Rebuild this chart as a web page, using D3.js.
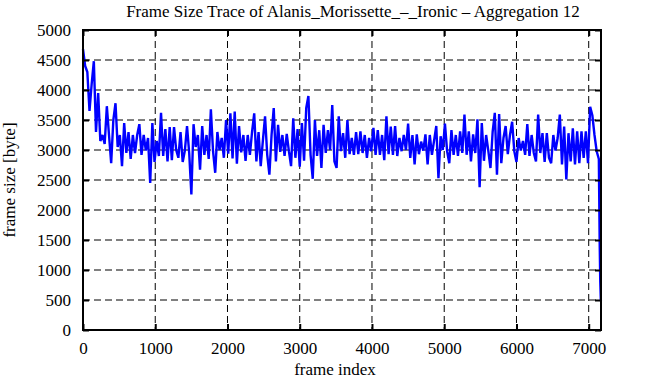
<!DOCTYPE html>
<html>
<head>
<meta charset="utf-8">
<script src="https://cdn.jsdelivr.net/npm/d3@7"></script>
<style>
  html, body { margin: 0; padding: 0; background: #fff; }
  svg { display: block; }
  text { font-family: "Liberation Serif", "Times New Roman", serif; fill: #000; }
</style>
</head>
<body>
<svg id="chart" width="665" height="380"></svg>
<script>
// ---- data ----
const titleText = "Frame Size Trace of Alanis_Morissette_\u2013_Ironic \u2013 Aggregation 12";
const xLabel = "frame index";
const yLabel = "frame size [byte]";
const xTicks = [0, 1000, 2000, 3000, 4000, 5000, 6000, 7000];
const yTicks = [0, 500, 1000, 1500, 2000, 2500, 3000, 3500, 4000, 4500, 5000];
const xMax = 7170;
const yMax = 5000;
const frameStep = 30; // frames between consecutive samples of frameSizes
const frameSizes = [
  4680, 4400, 4300, 3650, 4100, 4480, 3300, 3950, 3150, 3250, 3100, 3730, 3250, 2780, 3500, 3780,
  3050, 3250, 2730, 3450, 2950, 3300, 2850, 3250, 2950, 3250, 3430, 2920, 3250, 2990, 3200, 2450,
  3450, 2800, 3150, 2900, 3620, 2900, 3350, 2810, 3380, 2830, 3380, 3000, 2870, 3300, 2800,
  2990, 3400, 2950, 2260, 3430, 3050, 3250, 2670, 3400, 2920, 3250, 2850, 3680, 2980, 2620, 3300,
  3000, 3200, 2870, 3500, 2940, 3610, 2860, 3640, 2770, 3400, 2960, 3250, 2820, 3250, 2920, 3300,
  3610, 2810, 3300, 2730, 3160, 3560, 2920, 2590, 3250, 3700, 2810, 3420, 2970, 3250, 2900, 3270, 2980,
  2730, 3530, 2870, 3350, 2720, 3450, 2820, 3700, 3900, 2920, 2520, 3500, 2900, 3330, 2700, 3420,
  2950, 3330, 3000, 3750, 2810, 2700, 3560, 2980, 3280, 2870, 3500, 2930, 3200, 2920, 3300, 2930,
  3310, 2950, 3250, 2870, 3200, 2980, 3370, 2920, 3330, 2920, 3250, 2830, 3560, 2930, 3390, 2920,
  3400, 2900, 3200, 2980, 3250, 3000, 3440, 2870, 3250, 2760, 3260, 2930, 3140, 2990, 3260, 2760,
  3250, 2920, 3160, 3400, 2530, 3230, 3000, 3440, 2980, 2780, 3330, 2920, 3250, 2900, 3310, 2950,
  3590, 2920, 3310, 2810, 3260, 2950, 3510, 2380, 3450, 2820, 3250, 2990, 2700, 3300, 3620, 2590,
  3600, 2780, 3200, 3400, 2930, 3250, 3470, 2980, 2800, 3200, 2990, 3150, 2920, 3430, 2900, 3250,
  2950, 2810, 3590, 2950, 3280, 2800, 3280, 2870, 2780, 3250, 2990, 3200, 3590, 2760, 3390, 2510,
  3280, 2810, 3360, 2760, 3310, 2780, 3310, 2870, 3310, 2780, 3720, 3580, 3250, 2980, 2850
];
const tailFrames = [7152, 7160, 7168];
const tailSizes = [1450, 800, 480];

// ---- build points ----
const points = frameSizes.map((v, i) => ({ f: i * frameStep, v }))
  .concat(tailFrames.map((f, i) => ({ f, v: tailSizes[i] })));

// ---- layout ----
const svg = d3.select("#chart");
const L = 83, R = 601, T = 30, B = 330;
const x = d3.scaleLinear().domain([0, xMax]).range([L, R]);
const y = d3.scaleLinear().domain([0, yMax]).range([B, T]);

// grid
const g = svg.append("g");
g.selectAll("line.hg").data(yTicks.filter(t => t > 0 && t < yMax)).join("line")
  .attr("x1", L).attr("x2", R).attr("y1", d => y(d)).attr("y2", d => y(d))
  .attr("stroke", "#000").attr("stroke-width", 1).attr("stroke-dasharray", "7,4");
g.selectAll("line.vg").data(xTicks.filter(t => t > 0)).join("line")
  .attr("y1", T).attr("y2", B).attr("x1", d => x(d)).attr("x2", d => x(d))
  .attr("stroke", "#000").attr("stroke-width", 1).attr("stroke-dasharray", "7,4");

// trace
const line = d3.line().x(d => x(d.f)).y(d => y(d.v));
svg.append("path").datum(points)
  .attr("d", line).attr("fill", "none")
  .attr("stroke", "#0000ff").attr("stroke-width", 2.4).attr("stroke-linejoin", "bevel");

// axes (mirrored, inward ticks)
const tickLen = 6;
const ax = svg.append("g");
ax.append("g").attr("transform", `translate(0,${B})`)
  .call(d3.axisBottom(x).tickValues(xTicks).tickSize(-tickLen).tickPadding(12).tickFormat(d3.format("d")));
ax.append("g").attr("transform", `translate(0,${T})`)
  .call(d3.axisTop(x).tickValues(xTicks).tickSize(-tickLen).tickFormat(""));
ax.append("g").attr("transform", `translate(${L},0)`)
  .call(d3.axisLeft(y).tickValues(yTicks).tickSize(-tickLen).tickPadding(12).tickFormat(d3.format("d")));
ax.append("g").attr("transform", `translate(${R},0)`)
  .call(d3.axisRight(y).tickValues(yTicks).tickSize(-tickLen).tickFormat(""));
ax.selectAll(".domain").remove();
ax.selectAll(".tick line").attr("stroke", "#000").attr("stroke-width", 2);
ax.selectAll(".tick text").attr("font-size", 17).attr("font-family", "Liberation Serif").attr("fill", "#000");

svg.append("rect").attr("x", L).attr("y", T).attr("width", R - L).attr("height", B - T)
  .attr("fill", "none").attr("stroke", "#000").attr("stroke-width", 2);

// labels
svg.append("text").attr("x", 353).attr("y", 17).attr("text-anchor", "middle")
  .attr("font-size", 17).text(titleText);
svg.append("text").attr("x", 335).attr("y", 375).attr("text-anchor", "middle")
  .attr("font-size", 17).text(xLabel);
svg.append("text").attr("transform", `translate(15,${(T + B) / 2}) rotate(-90)`)
  .attr("text-anchor", "middle").attr("font-size", 17).text(yLabel);
</script>
</body>
</html>
